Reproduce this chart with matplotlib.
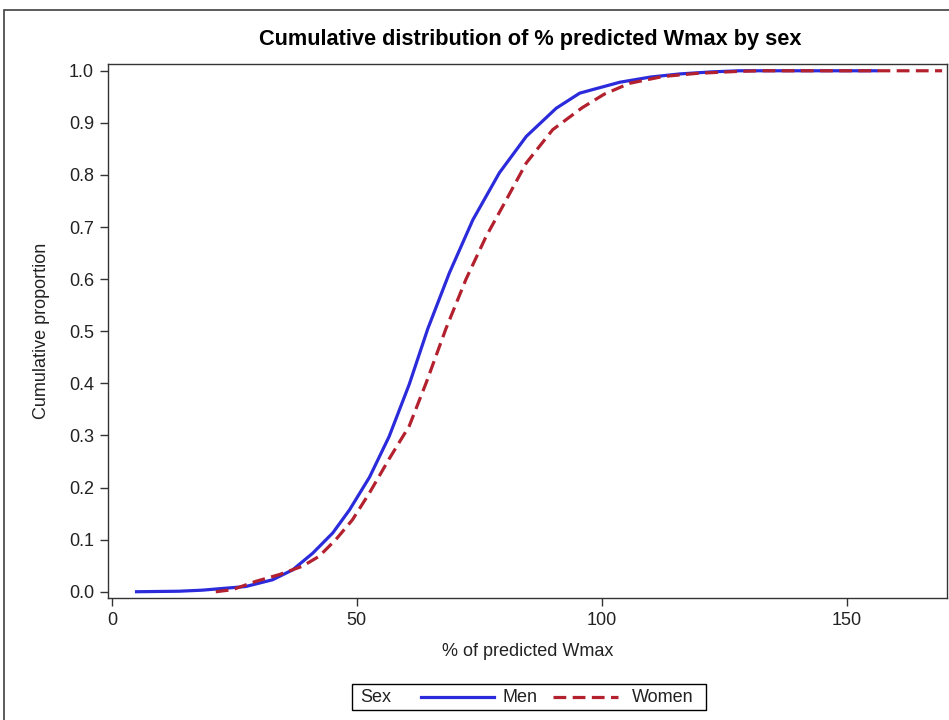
import matplotlib
matplotlib.use("Agg")
import matplotlib.pyplot as plt
from matplotlib.lines import Line2D
from matplotlib.patches import Rectangle

plt.rcParams['font.family'] = ['Liberation Sans', 'DejaVu Sans']

# ECDF (x = % predicted Wmax, y = cumulative proportion)
men_x = [4.7, 13.7, 18.4, 27.3, 32.8, 36.9, 41.0, 45.1, 48.5, 52.6, 56.6, 60.7, 64.5,
         68.9, 73.7, 79.1, 84.6, 90.7, 95.5, 98.2, 103.7, 110.0, 116.0, 122.7, 128.2, 156.4]
men_y = [0.0, 0.001, 0.003, 0.010, 0.023, 0.042, 0.074, 0.113, 0.157, 0.220, 0.298, 0.398, 0.505,
         0.612, 0.714, 0.804, 0.874, 0.928, 0.957, 0.964, 0.978, 0.988, 0.994, 0.998, 1.0, 1.0]

women_x = [21.2, 24.6, 29.4, 34.2, 38.9, 42.3, 45.7, 49.1, 52.6, 56.6, 60.7, 64.2, 68.2,
           72.3, 76.4, 80.5, 84.6, 90.0, 96.0, 100.5, 105.7, 112.5, 119.4, 128.2, 133.0, 169.5]
women_y = [0.0, 0.004, 0.020, 0.033, 0.049, 0.068, 0.100, 0.138, 0.190, 0.255, 0.318, 0.402, 0.505,
           0.600, 0.682, 0.752, 0.823, 0.887, 0.929, 0.955, 0.976, 0.989, 0.995, 0.999, 1.0, 1.0]

x_ticks = [0, 50, 100, 150]
y_ticks = [0.0, 0.1, 0.2, 0.3, 0.4, 0.5, 0.6, 0.7, 0.8, 0.9, 1.0]

men_color = '#2b2bdc'
women_color = '#b3202e'
text_color = '#222222'
W, H = 949, 720

fig = plt.figure(figsize=(W / 100, H / 100), dpi=100)

# outer frame of the SAS graph
fig.patches.append(Rectangle((4 / W, -0.05), 1.2, 1 - 10 / H + 0.05, transform=fig.transFigure,
                             fill=False, edgecolor='#404040', linewidth=1.2))

ax = fig.add_axes([108 / W, 1 - 598 / H, (947 - 108) / W, (598 - 64) / H])
ax.plot(men_x, men_y, color=men_color, linewidth=2.3, solid_capstyle='butt')
ax.plot(women_x, women_y, color=women_color, linewidth=2.3, linestyle=(0, (4, 2)))

ax.set_xlim(-0.8, 170.5)
ax.set_ylim(-0.012, 1.013)
ax.set_xticks(x_ticks)
ax.set_yticks(y_ticks)
ax.set_yticklabels([f"{v:.1f}" for v in y_ticks])
ax.tick_params(labelsize=13, length=6, width=1, color='#333333', labelcolor=text_color, pad=4)
for s in ax.spines.values():
    s.set_color('#333333')
    s.set_linewidth(1)

ax.set_xlabel("% of predicted Wmax", fontsize=13, color=text_color, labelpad=10)
ax.set_ylabel("Cumulative proportion", fontsize=13, color=text_color, labelpad=14)
fig.text(530 / W, 1 - 40 / H, "Cumulative distribution of % predicted Wmax by sex",
         ha='center', va='center', fontsize=15.7, fontweight='bold')

# legend drawn below the axes, SAS style
fig.patches.append(Rectangle((352 / W, 1 - 710 / H), (706 - 352) / W, 26 / H, transform=fig.transFigure,
                             fill=False, edgecolor='black', linewidth=1))
ly = 1 - 697 / H
fig.text(360 / W, ly, "Sex", ha='left', va='center', fontsize=13, color=text_color)
fig.lines.append(Line2D([421 / W, 494 / W], [ly, ly], transform=fig.transFigure,
                        color=men_color, linewidth=2.3))
fig.text(503 / W, ly, "Men", ha='left', va='center', fontsize=13, color=text_color)
fig.lines.append(Line2D([553 / W, 618 / W], [ly, ly], transform=fig.transFigure,
                        color=women_color, linewidth=2.3, linestyle=(0, (4, 2))))
fig.text(632 / W, ly, "Women", ha='left', va='center', fontsize=13, color=text_color)

fig.savefig("out.png", dpi=100)
